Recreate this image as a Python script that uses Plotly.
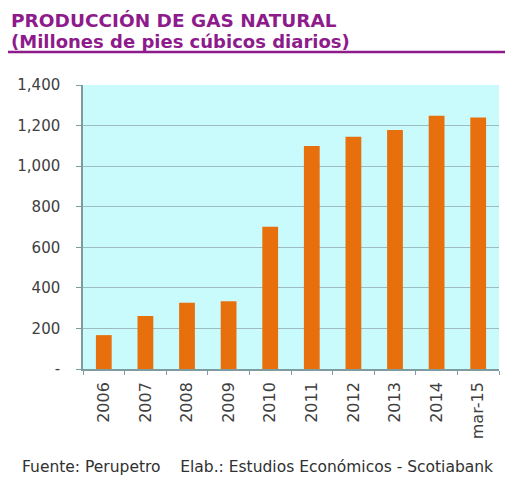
import plotly.graph_objects as go

# Producción de gas natural (MMPCD)
periodos = ["2006", "2007", "2008", "2009", "2010",
            "2011", "2012", "2013", "2014", "mar-15"]
produccion = [167, 261, 327, 334, 701, 1099, 1145, 1178, 1248, 1240]

y_ticks = [0, 200, 400, 600, 800, 1000, 1200, 1400]
y_labels = ["-", "200", "400", "600", "800", "1,000", "1,200", "1,400"]

purple = "#8E1B8C"
axis_col = "#7E9CA0"
font_fam = "DejaVu Sans, Liberation Sans, Arial, sans-serif"

fig = go.Figure()
fig.add_trace(go.Bar(
    x=periodos,
    y=produccion,
    marker=dict(color="#E8700C", line=dict(width=0)),
    width=0.38,
))

# page body has an 8px margin, so the figure is a bit smaller than the window
fig.update_layout(
    width=505, height=472,
    margin=dict(l=75, r=14, t=77, b=111),
    paper_bgcolor="white",
    plot_bgcolor="#C9FAFC",
    showlegend=False,
    font=dict(family=font_fam, color="#404040", size=14),
    xaxis=dict(
        type="category",
        tickangle=-90,
        automargin=False,
        showline=True, linecolor=axis_col, linewidth=1.5,
        ticks="outside", ticklen=4, tickcolor=axis_col,
        tickson="boundaries",
        ticklabelstandoff=5,
        showgrid=False,
        tickfont=dict(size=16),
    ),
    yaxis=dict(
        range=[0, 1400],
        automargin=False,
        tickvals=y_ticks, ticktext=y_labels,
        showline=True, linecolor=axis_col, linewidth=1.5,
        ticks="outside", ticklen=5, tickcolor=axis_col,
        ticklabelstandoff=13,
        showgrid=True, gridcolor="#9DBCC2", gridwidth=1,
        zeroline=False,
        tickfont=dict(size=15),
    ),
)

# title, subtitle and source note, placed relative to the plot area (416 x 284 px)
fig.update_layout(annotations=[
    dict(text="<b>PRODUCCIÓN DE GAS NATURAL</b>", xref="paper", yref="paper",
         x=-74 / 416, y=1 + 77 / 284, xanchor="left", yanchor="top", showarrow=False,
         font=dict(size=18.5, color=purple, family=font_fam)),
    dict(text="<b>(Millones de pies cúbicos diarios)</b>", xref="paper", yref="paper",
         x=-74 / 416, y=1 + 56 / 284, xanchor="left", yanchor="top", showarrow=False,
         font=dict(size=18, color=purple, family=font_fam)),
    dict(text="Fuente: Perupetro    Elab.: Estudios Económicos - Scotiabank",
         xref="paper", yref="paper", x=-63 / 416, y=-98 / 284,
         xanchor="left", yanchor="middle", showarrow=False,
         font=dict(size=15.5, color="#303030", family=font_fam)),
])

fig.add_shape(type="line", xref="paper", yref="paper",
              x0=-75 / 416, x1=1 + 11 / 416, y0=1 + 33 / 284, y1=1 + 33 / 284,
              line=dict(color=purple, width=2.5))

fig.write_html("out.html")
